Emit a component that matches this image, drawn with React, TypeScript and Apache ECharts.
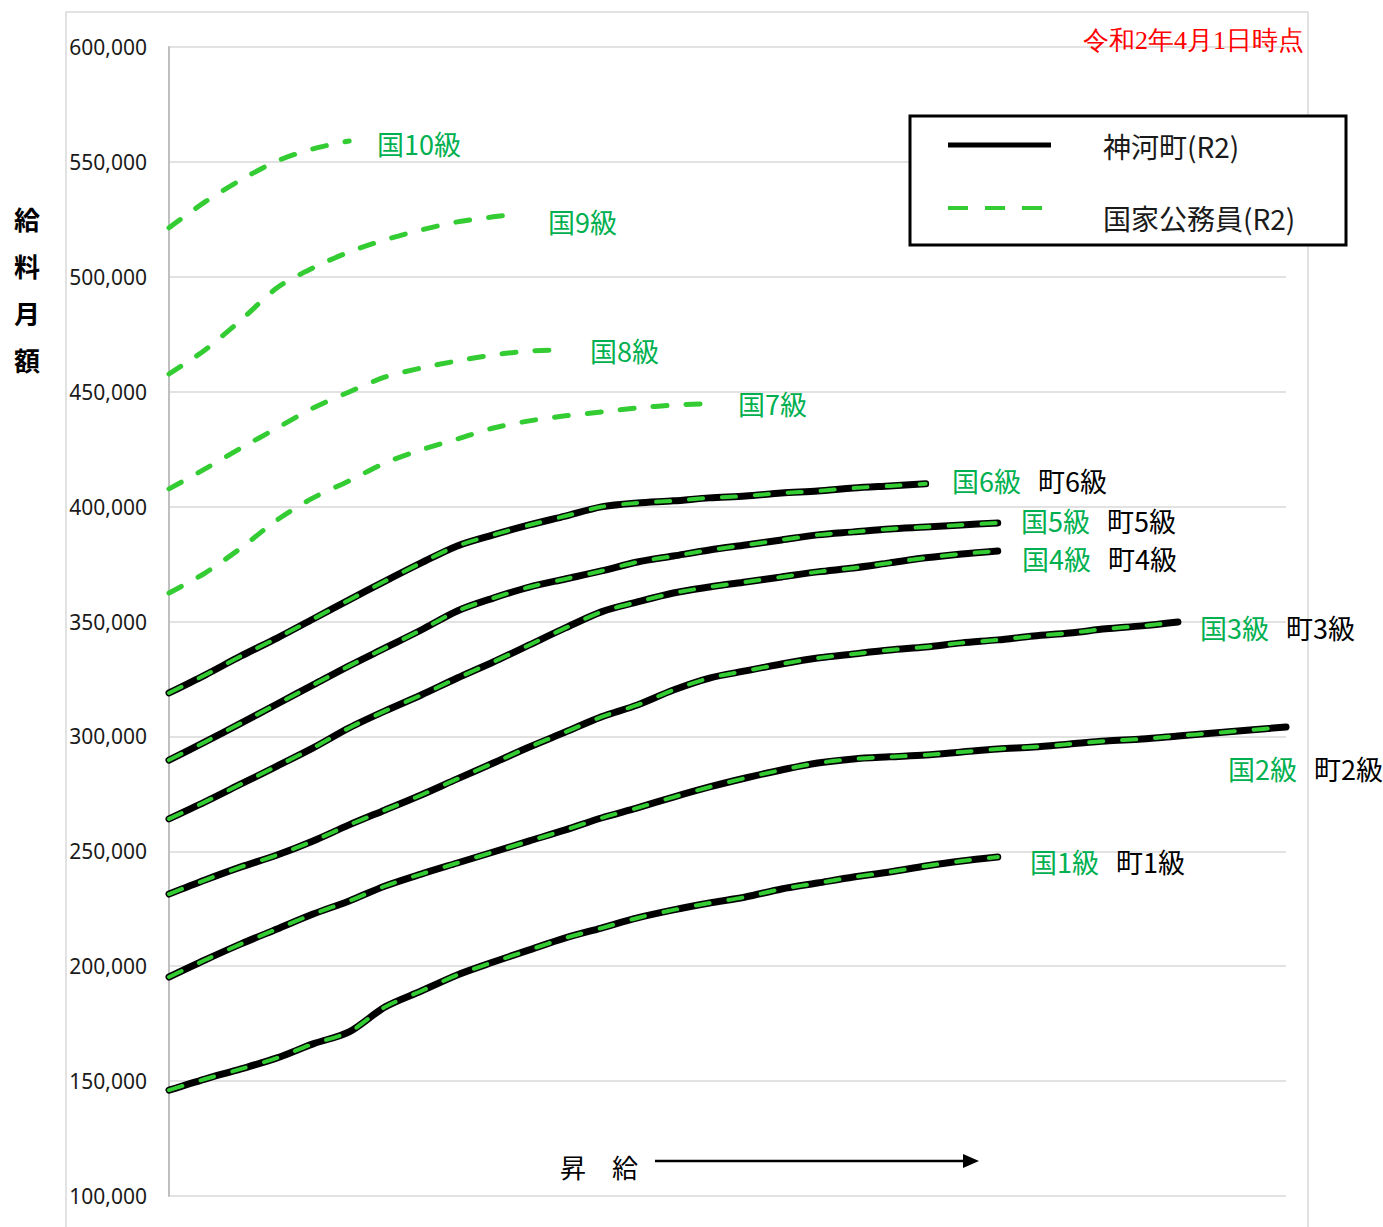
import React, { useEffect, useRef } from 'react';
import * as echarts from 'echarts';

// 号給 (step numbers) at which values were read
const steps = [1, 5, 9, 13, 17, 21, 25, 29, 33, 37, 41, 45, 49, 53, 57, 61, 65, 69, 73, 77, 81, 85, 89, 93, 97, 101, 105, 109, 113, 117, 121, 125];
const steps7 = [1, 5, 9, 13, 17, 21, 25, 29, 33, 37, 41, 45, 49, 53, 57, 60];
const steps9 = [1, 5, 9, 13, 17, 21, 25, 29, 33, 37, 40];

// 国家公務員 (R2) monthly salary by grade
const nat1 = [146100, 150900, 155300, 160100, 166200, 171400, 182300, 189200, 196200, 201800, 207100, 212300, 216600, 221000, 224500, 227500, 230100, 233600, 236200, 238800, 241000, 243600, 245800, 247500];
const nat2 = [195300, 202700, 209700, 216200, 222700, 228400, 234900, 240100, 244900, 249700, 254500, 259300, 264500, 268900, 273600, 278000, 281900, 285400, 288400, 290200, 291100, 291900, 293200, 294500, 295400, 296700, 298000, 298900, 300200, 301500, 302800, 304100];
const nat3 = [231400, 237500, 243200, 248400, 254500, 261500, 268000, 274500, 281500, 288400, 295400, 301900, 308500, 313700, 320200, 325400, 328500, 331500, 334100, 335900, 337600, 338900, 340700, 342000, 343700, 345000, 346800, 348100, 349800];
const nat4 = [264100, 271500, 279300, 287100, 295000, 303700, 311100, 318000, 325400, 332400, 339800, 347200, 354200, 358500, 362400, 365000, 367200, 369400, 371600, 373300, 375500, 377700, 379400, 380700];
const nat5 = [289700, 297600, 305800, 314100, 322400, 330700, 338500, 346300, 354600, 360200, 365000, 368500, 372000, 375900, 378500, 381100, 383300, 385500, 387700, 389000, 390300, 391100, 392000, 392900];
const nat6 = [318900, 326700, 335000, 342800, 351100, 359400, 367600, 375500, 382900, 387700, 392000, 395900, 399900, 401600, 402500, 403800, 404600, 405900, 406800, 408100, 409000, 409900];
const nat7 = [362400, 371100, 382000, 394200, 403800, 411200, 419000, 424700, 429400, 434200, 437300, 439500, 441200, 442900, 444200, 444700];
const nat8 = [407700, 416400, 425500, 434200, 442900, 449900, 456400, 460300, 463400, 466000, 467700, 468200];
const nat9 = [457700, 468200, 481200, 495200, 503900, 510800, 516100, 520400, 523900, 526100, 527400];
const nat10 = [521300, 532600, 542200, 550400, 555700, 559100];

// 神河町 (R2) – lies on top of the national table for grades 1-6
const town1 = [146100, 150900, 155300, 160100, 166200, 171400, 182300, 189200, 196200, 201800, 207100, 212300, 216600, 221000, 224500, 227500, 230100, 233600, 236200, 238800, 241000, 243600, 245800, 247500];
const town2 = [195300, 202700, 209700, 216200, 222700, 228400, 234900, 240100, 244900, 249700, 254500, 259300, 264500, 268900, 273600, 278000, 281900, 285400, 288400, 290200, 291100, 291900, 293200, 294500, 295400, 296700, 298000, 298900, 300200, 301500, 302800, 304100];
const town3 = [231400, 237500, 243200, 248400, 254500, 261500, 268000, 274500, 281500, 288400, 295400, 301900, 308500, 313700, 320200, 325400, 328500, 331500, 334100, 335900, 337600, 338900, 340700, 342000, 343700, 345000, 346800, 348100, 349800];
const town4 = [264100, 271500, 279300, 287100, 295000, 303700, 311100, 318000, 325400, 332400, 339800, 347200, 354200, 358500, 362400, 365000, 367200, 369400, 371600, 373300, 375500, 377700, 379400, 380700];
const town5 = [289700, 297600, 305800, 314100, 322400, 330700, 338500, 346300, 354600, 360200, 365000, 368500, 372000, 375900, 378500, 381100, 383300, 385500, 387700, 389000, 390300, 391100, 392000, 392900];
const town6 = [318900, 326700, 335000, 342800, 351100, 359400, 367600, 375500, 382900, 387700, 392000, 395900, 399900, 401600, 402500, 403800, 404600, 405900, 406800, 408100, 409000, 409900];

const TOWN = '神河町(R2)';
const NAT = '国家公務員(R2)';
const GREEN_LINE = '#33cc33';
const GREEN_TEXT = '#00b050';
const CJK = '"Noto Sans CJK JP", "Noto Sans", sans-serif';

const pairs = (xs: number[], ys: number[]) => ys.map((v, i) => [xs[i], v]);

export default function App() {
  const ref = useRef<HTMLDivElement>(null);

  useEffect(() => {
    document.body.style.margin = '0';
    if (!ref.current) return;
    const chart = echarts.init(ref.current, undefined, { renderer: 'svg' });

    const townSets: [number[], number[]][] = [
      [steps, town1], [steps, town2], [steps, town3], [steps, town4], [steps, town5], [steps, town6],
    ];
    const natSets: [number[], number[], number][] = [
      [steps, nat1, 4], [steps, nat2, 4], [steps, nat3, 4], [steps, nat4, 4], [steps, nat5, 4], [steps, nat6, 4],
      [steps7, nat7, 5], [steps, nat8, 5], [steps9, nat9, 5], [steps, nat10, 5],
    ];

    const series: any[] = [];
    townSets.forEach(([xs, ys]) => {
      series.push({
        type: 'line',
        name: TOWN,
        data: pairs(xs, ys),
        symbol: 'none',
        smooth: 0.3,
        z: 2,
        lineStyle: { color: '#000000', width: 7, cap: 'round', join: 'round' },
      });
    });
    natSets.forEach(([xs, ys, w]) => {
      series.push({
        type: 'line',
        name: NAT,
        data: pairs(xs, ys),
        symbol: 'none',
        smooth: 0.3,
        z: 3,
        lineStyle: { color: GREEN_LINE, width: w, type: [14, 19], cap: 'round', join: 'round' },
      });
    });

    const lbl = (text: string, x: number, y: number, color: string) => ({
      type: 'text',
      x,
      y,
      z: 10,
      style: { text, fill: color, font: `27px ${CJK}`, textAlign: 'left', textVerticalAlign: 'middle' },
    });

    const graphic: any[] = [
      {
        type: 'rect',
        silent: true,
        z: -1,
        shape: { x: 66, y: 12, width: 1242, height: 1240 },
        style: { fill: 'none', stroke: '#d9d9d9', lineWidth: 1.5 },
      },
      {
        type: 'text',
        x: 1083,
        y: 40,
        z: 10,
        style: { text: '令和2年4月1日時点', fill: '#ff0000', font: `26px serif`, textAlign: 'left', textVerticalAlign: 'middle' },
      },
      {
        type: 'text',
        x: 27,
        y: 195,
        z: 10,
        style: { text: '給\n料\n月\n額', fill: '#000', font: `bold 26px ${CJK}`, lineHeight: 47, textAlign: 'center', textVerticalAlign: 'top' },
      },
      // legend box
      {
        type: 'rect',
        z: 20,
        shape: { x: 910, y: 116, width: 436, height: 129 },
        style: { fill: '#ffffff', stroke: '#000000', lineWidth: 3 },
      },
      {
        type: 'line',
        z: 21,
        shape: { x1: 948, y1: 145, x2: 1051, y2: 145 },
        style: { stroke: '#000000', lineWidth: 5 },
      },
      {
        type: 'text',
        x: 1103,
        y: 146,
        z: 21,
        style: { text: TOWN, fill: '#1a1a1a', font: `28px ${CJK}`, textAlign: 'left', textVerticalAlign: 'middle' },
      },
      {
        type: 'line',
        z: 21,
        shape: { x1: 948, y1: 208, x2: 1043, y2: 208 },
        style: { stroke: GREEN_LINE, lineWidth: 4, lineDash: [20, 17] },
      },
      {
        type: 'text',
        x: 1103,
        y: 218,
        z: 21,
        style: { text: NAT, fill: '#1a1a1a', font: `28px ${CJK}`, textAlign: 'left', textVerticalAlign: 'middle' },
      },
      // 昇給 arrow
      {
        type: 'text',
        x: 560,
        y: 1166,
        z: 10,
        style: { text: '昇　給', fill: '#000', font: `26px ${CJK}`, textAlign: 'left', textVerticalAlign: 'middle' },
      },
      {
        type: 'line',
        z: 10,
        shape: { x1: 655, y1: 1161, x2: 966, y2: 1161 },
        style: { stroke: '#000', lineWidth: 2.5 },
      },
      {
        type: 'polygon',
        z: 10,
        shape: { points: [[963, 1154], [979, 1161], [963, 1168]] },
        style: { fill: '#000' },
      },
      // grade labels
      lbl('国10級', 377, 143, GREEN_TEXT),
      lbl('国9級', 548, 221, GREEN_TEXT),
      lbl('国8級', 590, 350, GREEN_TEXT),
      lbl('国7級', 738, 403, GREEN_TEXT),
      lbl('国6級', 952, 480, GREEN_TEXT),
      lbl('町6級', 1038, 480, '#000'),
      lbl('国5級', 1021, 520, GREEN_TEXT),
      lbl('町5級', 1107, 520, '#000'),
      lbl('国4級', 1022, 558, GREEN_TEXT),
      lbl('町4級', 1108, 558, '#000'),
      lbl('国3級', 1200, 627, GREEN_TEXT),
      lbl('町3級', 1286, 627, '#000'),
      lbl('国2級', 1228, 768, GREEN_TEXT),
      lbl('町2級', 1314, 768, '#000'),
      lbl('国1級', 1030, 861, GREEN_TEXT),
      lbl('町1級', 1116, 861, '#000'),
    ];

    chart.setOption({
      animation: false,
      backgroundColor: '#ffffff',
      grid: { left: 169, top: 47, width: 1117, height: 1149, containLabel: false },
      xAxis: { type: 'value', min: 1, max: 125, show: false },
      yAxis: {
        type: 'value',
        min: 100000,
        max: 600000,
        interval: 50000,
        axisLine: { show: true, lineStyle: { color: '#bfbfbf', width: 2 } },
        axisTick: { show: false },
        splitLine: { show: true, lineStyle: { color: '#d9d9d9', width: 1.5 } },
        axisLabel: {
          margin: 22,
          fontSize: 21,
          color: '#1a1a1a',
          fontFamily: '"Noto Sans", sans-serif',
          formatter: (v: number) => v.toLocaleString('en-US'),
        },
      },
      series,
      graphic,
    });

    return () => chart.dispose();
  }, []);

  return <div ref={ref} style={{ width: 1383, height: 1227 }} />;
}
